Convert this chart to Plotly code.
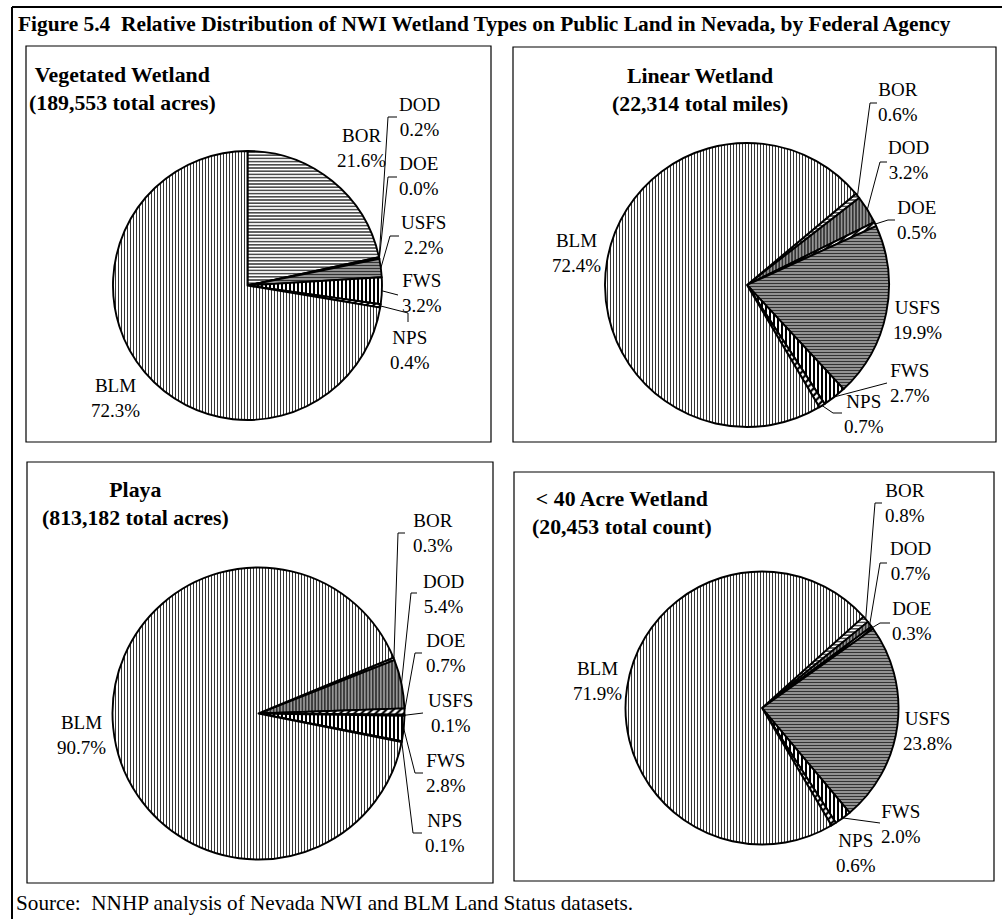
import math
import plotly.graph_objects as go

W, H = 1002, 919

# ---------------- data ----------------
agencies = ["BOR", "DOD", "DOE", "USFS", "FWS", "NPS", "BLM"]
vegetated_pct = [21.6, 0.2, 0.0, 2.2, 3.2, 0.4, 72.3]
linear_pct = [0.6, 3.2, 0.5, 19.9, 2.7, 0.7, 72.4]
playa_pct = [0.3, 5.4, 0.7, 0.1, 2.8, 0.1, 90.7]
small_pct = [0.8, 0.7, 0.3, 23.8, 2.0, 0.6, 71.9]

panel_titles = [
    "Vegetated Wetland<br>(189,553 total acres)",
    "Linear Wetland<br>(22,314 total miles)",
    "Playa<br>(813,182 total acres)",
    "&lt; 40 Acre Wetland<br>(20,453 total count)",
]
fig_title = "Figure 5.4\u00a0 Relative Distribution of NWI Wetland Types on Public Land in Nevada, by Federal Agency"
source_text = "Source:\u00a0 NNHP analysis of Nevada NWI and BLM Land Status datasets."

# ---------------- styles ----------------
pattern_style = {
    "BOR":  dict(shape="-", fg="#000000", bg="#ffffff", size=3.2, sol=0.35),
    "DOD":  dict(shape="|", fg="#1a1a1a", bg="#969696", size=3.2, sol=0.4),
    "DOE":  dict(shape="/", fg="#000000", bg="#ffffff", size=5, sol=0.45),
    "USFS": dict(shape="-", fg="#333333", bg="#9c9c9c", size=3, sol=0.4),
    "FWS":  dict(shape="|", fg="#000000", bg="#ffffff", size=4, sol=0.5),
    "NPS":  dict(shape="/", fg="#000000", bg="#ffffff", size=5, sol=0.45),
    "BLM":  dict(shape="|", fg="#333333", bg="#ffffff", size=3, sol=0.33),
}

# panel layout (pixels): pie centre, radius, rotation, frame, title centre, label placements
panels = [
    dict(values=vegetated_pct, cx=247.5, cy=285.5, r=134.5, rot=0,
         frame=(26, 46, 491, 442), title=(122, 89),
         labels={"BOR": (361, 148, None), "DOD": (419.5, 116.5, [(388, 117), (397, 117)]),
                 "DOE": (419, 175.5, [(388, 177), (397, 177)]),
                 "USFS": (423, 235, [(390, 236), (399, 236)]),
                 "FWS": (422, 293, [(398, 295)]),
                 "NPS": (409.5, 350, [(408, 313), (408, 322)]),
                 "BLM": (115, 398, None)}),
    dict(values=linear_pct, cx=747, cy=285, r=142, rot=50,
         frame=(513, 47, 996, 442), title=(700, 90),
         labels={"BOR": (898, 101.5, [(870, 103), (877, 103)]),
                 "DOD": (908.5, 160, [(880, 162), (887, 162)]),
                 "DOE": (916.5, 220, [(888, 220), (895, 220)]),
                 "USFS": (917, 320, None),
                 "FWS": (910, 382.5, [(887, 383)]),
                 "NPS": (864, 414, [(833, 413), (842, 413)]),
                 "BLM": (576, 253, None)}),
    dict(values=playa_pct, cx=258.5, cy=713.5, r=146, rot=67.5,
         frame=(27, 462, 493, 883), title=(135, 504),
         labels={"BOR": (433, 533, [(398, 533), (405, 533)]),
                 "DOD": (443, 594, [(411, 593), (417, 593)]),
                 "DOE": (446, 653, [(415, 653), (422, 653)]),
                 "USFS": (450, 713, [(423, 713)]),
                 "FWS": (446, 773, [(415, 773), (423, 773)]),
                 "NPS": (445, 833, [(413, 833), (422, 833)]),
                 "BLM": (81, 735, None)}),
    dict(values=small_pct, cx=762, cy=708, r=136.5, rot=48,
         frame=(514, 472, 994, 881), title=(622, 513),
         labels={"BOR": (905, 503, [(875, 503), (882, 503)]),
                 "DOD": (910, 561, [(880, 563), (887, 563)]),
                 "DOE": (912, 621, [(880, 623), (890, 623)]),
                 "USFS": (927.5, 731, None),
                 "FWS": (901, 824, [(880, 823)]),
                 "NPS": (856, 853, None),
                 "BLM": (597, 681, None)}),
]

SERIF = "Liberation Serif, Times New Roman, serif"

fig = go.Figure()
shapes = []
annotations = []

# invisible pixel axes for decorations
fig.add_trace(go.Scatter(x=[0, W], y=[0, H], mode="markers", marker=dict(opacity=0),
                         hoverinfo="skip", showlegend=False))

for idx, p in enumerate(panels):
    vals = p["values"]
    cx, cy, r = p["cx"], p["cy"], p["r"]
    fig.add_trace(go.Pie(
        labels=agencies, values=vals, sort=False, direction="clockwise",
        rotation=p["rot"], textinfo="none", showlegend=False, hoverinfo="label+value",
        domain=dict(x=[(cx - r) / W, (cx + r) / W], y=[1 - (cy + r) / H, 1 - (cy - r) / H]),
        marker=dict(
            colors=[pattern_style[a]["bg"] for a in agencies],
            line=dict(color="black", width=1.9),
            pattern=dict(
                shape=[pattern_style[a]["shape"] for a in agencies],
                fgcolor=[pattern_style[a]["fg"] for a in agencies],
                bgcolor=[pattern_style[a]["bg"] for a in agencies],
                size=[pattern_style[a]["size"] for a in agencies],
                solidity=[pattern_style[a]["sol"] for a in agencies],
            ),
        ),
    ))
    x0, y0, x1, y1 = p["frame"]
    shapes.append(dict(type="rect", xref="x", yref="y", x0=x0, y0=y0, x1=x1, y1=y1,
                       line=dict(color="black", width=1.2), fillcolor="rgba(0,0,0,0)", layer="below"))
    annotations.append(dict(x=p["title"][0], y=p["title"][1], xref="x", yref="y",
                            text="<b>" + panel_titles[idx] + "</b>",
                            showarrow=False, xanchor="center", yanchor="middle", align="center",
                            font=dict(family=SERIF, size=21.8, color="black")))
    total = sum(vals)
    cum = 0.0
    for a, v in zip(agencies, vals):
        mid = math.radians(p["rot"] + 360.0 * (cum + v / 2.0) / total)
        cum += v
        lx, ly, elbow = p["labels"][a]
        annotations.append(dict(x=lx, y=ly, xref="x", yref="y", text=f"{a}<br>{v:.1f}%",
                                showarrow=False, xanchor="center", yanchor="middle", align="center",
                                font=dict(family=SERIF, size=19, color="black")))
        if elbow:
            sx = cx + r * math.sin(mid)
            sy = cy - r * math.cos(mid)
            path = f"M {sx:.2f},{sy:.2f} " + " ".join(f"L {ex},{ey}" for ex, ey in elbow)
            shapes.append(dict(type="path", xref="x", yref="y", path=path,
                               line=dict(color="black", width=1)))

# outer frame (cropped on the right/bottom)
shapes.append(dict(type="line", xref="x", yref="y", x0=12, y0=7, x1=W, y1=7,
                   line=dict(color="black", width=2)))
shapes.append(dict(type="line", xref="x", yref="y", x0=12, y0=7, x1=12, y1=H,
                   line=dict(color="black", width=2)))

annotations.append(dict(x=16, y=24, xref="x", yref="y", text="<b>" + fig_title + "</b>",
                        showarrow=False, xanchor="left", yanchor="middle",
                        font=dict(family=SERIF, size=21.4, color="black")))
annotations.append(dict(x=14, y=903, xref="x", yref="y", text=source_text,
                        showarrow=False, xanchor="left", yanchor="middle",
                        font=dict(family=SERIF, size=21.2, color="black")))

fig.update_layout(
    width=W, height=H, margin=dict(l=0, r=0, t=0, b=0),
    paper_bgcolor="white", plot_bgcolor="rgba(0,0,0,0)",
    xaxis=dict(range=[0, W], visible=False, domain=[0, 1], fixedrange=True),
    yaxis=dict(range=[H, 0], visible=False, domain=[0, 1], fixedrange=True),
    shapes=shapes, annotations=annotations, showlegend=False,
)

fig.write_html("out.html")
